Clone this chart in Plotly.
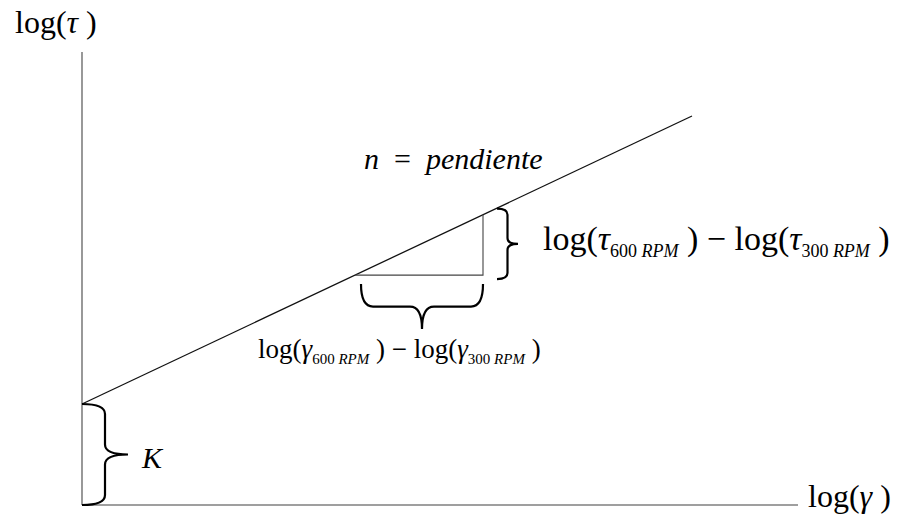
import plotly.graph_objects as go

# Power-law model in log-log space: log(tau) = K + n * log(gamma)
K = 1.01            # intercept on the log(tau) axis
n = 0.4721          # slope (flow behaviour index)
gamma_300 = 2.73    # log(gamma) at 300 RPM
gamma_600 = 4.01    # log(gamma) at 600 RPM
line_end = 6.10     # last log(gamma) drawn for the model line

# Axis extents (origin at 0, 0)
axis_x_max = 7.16
axis_y_max = 4.53

# Labels
label_y_axis = "log(<i>τ</i> )"
label_x_axis = "log(<i>γ</i> )"
label_slope = "<i>n</i>\u2002=\u2002<i>pendiente</i>"
label_K = "<i>K</i>"


def sub_label(sym, sub_size):
    def part(rpm):
        return (f"log(<i>{sym}</i><sub><span style='font-size:{sub_size}px'>"
                f"{rpm} <i>RPM</i></span></sub> )")
    return part("600") + " − " + part("300")


label_tau_diff = sub_label("τ", 18)
label_gamma_diff = sub_label("γ", 15)

tau_300 = K + n * gamma_300
tau_600 = K + n * gamma_600
tau_end = K + n * line_end

FONT = "Liberation Serif"

fig = go.Figure()

# Axes
fig.add_trace(go.Scatter(x=[0, 0], y=[axis_y_max, 0], mode="lines",
                         line=dict(color="#7f7f7f", width=1.6), hoverinfo="skip"))
fig.add_trace(go.Scatter(x=[0, axis_x_max], y=[0, 0], mode="lines",
                         line=dict(color="#7f7f7f", width=1.6), hoverinfo="skip"))

# Model line
fig.add_trace(go.Scatter(x=[0, line_end], y=[K, tau_end], mode="lines",
                         line=dict(color="#111111", width=1.3), hoverinfo="skip"))

# Slope triangle
fig.add_trace(go.Scatter(x=[gamma_300, gamma_600, gamma_600],
                         y=[tau_300, tau_300, tau_600], mode="lines",
                         line=dict(color="#444444", width=1.1), hoverinfo="skip"))


def brace_path(p0, p1, depth, r):
    """Curly brace from p0 to p1; the tip sits 'depth' to the left of the p0->p1 direction."""
    (x0, y0), (x1, y1) = p0, p1
    L = ((x1 - x0) ** 2 + (y1 - y0) ** 2) ** 0.5
    ux, uy = (x1 - x0) / L, (y1 - y0) / L
    vx, vy = -uy, ux
    mx, my = (x0 + x1) / 2, (y0 + y1) / 2
    h = depth / 2

    def pt(bx, by, a, b):
        return f"{bx + ux * a + vx * b:.4f},{by + uy * a + vy * b:.4f}"

    return (f"M {pt(x0, y0, 0, 0)} "
            f"Q {pt(x0, y0, 0, h)} {pt(x0, y0, r, h)} "
            f"L {pt(mx, my, -r, h)} "
            f"Q {pt(mx, my, 0, h)} {pt(mx, my, 0, depth)} "
            f"Q {pt(mx, my, 0, h)} {pt(mx, my, r, h)} "
            f"L {pt(x1, y1, -r, h)} "
            f"Q {pt(x1, y1, 0, h)} {pt(x1, y1, 0, 0)}")


brace_style = dict(type="path", xref="x", yref="y",
                   line=dict(color="black", width=2.2))

# K brace along the log(tau) axis (top to bottom, tip to the right)
fig.add_shape(path=brace_path((0, K), (0, 0), 0.46, 0.10), **brace_style)
# Vertical rise brace
bx = gamma_600 + 0.14
fig.add_shape(path=brace_path((bx, tau_600 + 0.06), (bx, tau_300 - 0.04), 0.21, 0.06),
              **brace_style)
# Horizontal run brace
by = tau_300 - 0.09
fig.add_shape(path=brace_path((gamma_300 + 0.06, by), (gamma_600, by), -0.45, 0.12),
              **brace_style)


def add_text(x, y, text, size, xanchor="left"):
    fig.add_annotation(x=x, y=y, text=text, xanchor=xanchor, yanchor="middle",
                       showarrow=False, xref="x", yref="y",
                       font=dict(family=FONT, color="black", size=size))


add_text(-0.69, 4.83, label_y_axis, 32)
add_text(axis_x_max + 0.08, 0.09, label_x_axis, 32)
add_text(2.80, 3.47, label_slope, 30)
add_text(bx + 0.44, (tau_300 + tau_600) / 2 + 0.04, label_tau_diff, 34)
add_text((gamma_300 + gamma_600) / 2 - 0.20, by - 0.66, label_gamma_diff, 27, "center")
add_text(0.57, 0.48, label_K, 30)

fig.update_layout(
    width=897, height=525,
    margin=dict(l=0, r=0, t=0, b=0),
    paper_bgcolor="white", plot_bgcolor="white",
    showlegend=False,
    xaxis=dict(range=[-0.82, 8.15], visible=False, fixedrange=True),
    yaxis=dict(range=[-0.20, 5.05], visible=False, fixedrange=True),
)

fig.write_html("out.html")
